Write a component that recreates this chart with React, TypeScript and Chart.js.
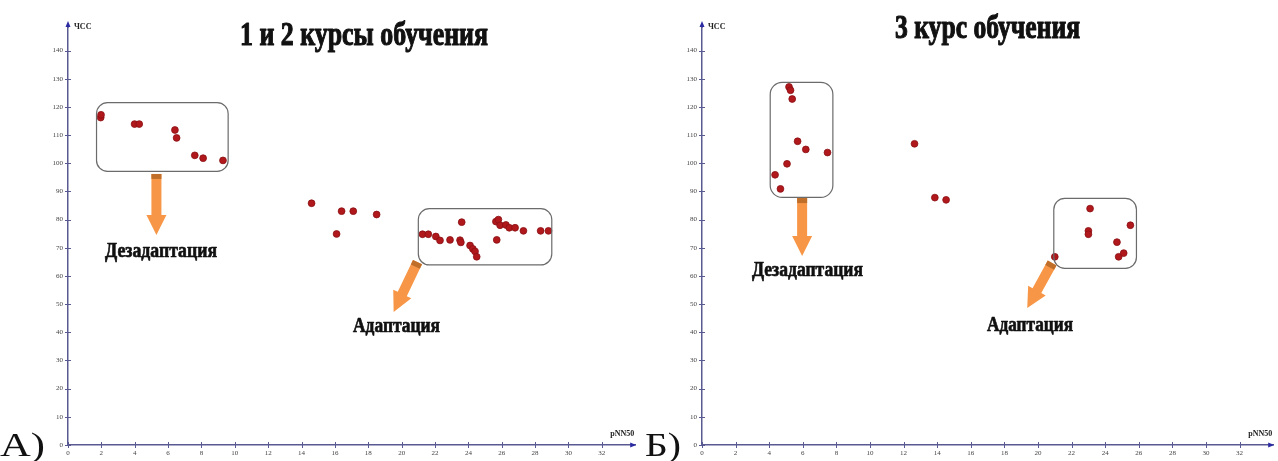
import React, { useEffect, useRef } from "react";
import { Chart, registerables } from "chart.js";

Chart.register(...registerables);

// ---------- DATA ----------
// А) 1 и 2 курсы обучения
const leftPNN50 = [1.96, 1.98, 3.99, 4.27, 6.41, 6.51, 7.6, 8.1, 9.29, 14.6, 16.1, 16.4, 17.1, 18.5,
  21.25, 21.6, 22.05, 22.3, 22.9, 23.5, 23.55, 23.6, 24.1, 24.27, 24.4, 24.5,
  25.65, 25.8, 25.9, 25.7, 26.25, 26.45, 26.8, 27.3, 28.33, 28.8];
const leftHR = [116.2, 117.2, 113.9, 113.9, 111.8, 109.0, 102.8, 101.8, 101.0, 85.8, 74.9, 83.0, 83.0, 81.8,
  74.8, 74.8, 74.0, 72.6, 72.8, 72.7, 71.9, 79.1, 70.8, 69.6, 68.7, 66.8,
  79.3, 80.0, 78.0, 72.8, 78.1, 77.1, 77.1, 76.0, 76.0, 76.0];
// Б) 3 курс обучения
const rightPNN50 = [4.35, 4.67, 5.06, 5.18, 5.27, 5.37, 5.69, 6.18, 7.47, 12.65, 13.86, 14.53,
  21.0, 23.0, 23.0, 23.1, 24.7, 24.8, 25.1, 25.5];
const rightHR = [95.9, 90.9, 99.8, 127.1, 125.9, 122.8, 107.8, 104.9, 103.8, 106.9, 87.8, 87.0,
  66.8, 76.0, 74.8, 83.9, 72.0, 66.8, 68.1, 78.0];

const xAxisName = "pNN50";
const yAxisName = "ЧСС";
const leftTitle = "1 и 2 курсы обучения";
const rightTitle = "3 курс обучения";
const labelDis = "Дезадаптация";
const labelAd = "Адаптация";

const X_MAX = 34;
const X_TICK_LAST = 32;
const Y_MAX = 148;

// ---------- STYLE ----------
const AXIS_COLOR = "#5a5a92";
const ARROW_COLOR = "#2b2ba3";
const POINT_FILL = "#b0181c";
const POINT_EDGE = "#8a1014";
const ORANGE = "#f79646";
const ORANGE_DARK = "#c06f2a";
const SERIF = "'Liberation Serif', 'DejaVu Serif', serif";

type Box = { x1: number; x2: number; y1: number; y2: number; r: number };
type Arrow = { x1: number; y1: number; x2: number; y2: number };
type Label = { text: string; cx: number; base: number; w: number; size: number; bold: boolean; align?: string };

type Panel = {
  xs: number[];
  ys: number[];
  boxes: Box[];
  arrows: Arrow[];
  labels: Label[];
  yAxisWidth: number;
  padRight: number;
};

function drawText(ctx: CanvasRenderingContext2D, l: Label) {
  ctx.save();
  ctx.font = `${l.bold ? "bold " : ""}${l.size}px ${SERIF}`;
  ctx.fillStyle = "#111";
  ctx.strokeStyle = "#111";
  ctx.textBaseline = "alphabetic";
  const m = ctx.measureText(l.text).width;
  const sx = l.w / m;
  ctx.translate(l.cx, l.base);
  ctx.scale(sx, 1);
  ctx.textAlign = (l.align as CanvasTextAlign) || "center";
  ctx.fillText(l.text, 0, 0);
  if (l.bold) {
    ctx.lineWidth = l.size > 25 ? 1.1 : 0.7;
    ctx.lineJoin = "round";
    ctx.strokeText(l.text, 0, 0);
  }
  ctx.restore();
}

function drawBlockArrow(ctx: CanvasRenderingContext2D, x1: number, y1: number, x2: number, y2: number) {
  const dx = x2 - x1, dy = y2 - y1;
  const len = Math.hypot(dx, dy);
  const ux = dx / len, uy = dy / len;
  const px = -uy, py = ux;
  const sw = 5, hw = 10, hl = 20;
  const bx = x2 - ux * hl, by = y2 - uy * hl;
  ctx.save();
  ctx.fillStyle = ORANGE;
  ctx.beginPath();
  ctx.moveTo(x1 + px * sw, y1 + py * sw);
  ctx.lineTo(bx + px * sw, by + py * sw);
  ctx.lineTo(bx + px * hw, by + py * hw);
  ctx.lineTo(x2, y2);
  ctx.lineTo(bx - px * hw, by - py * hw);
  ctx.lineTo(bx - px * sw, by - py * sw);
  ctx.lineTo(x1 - px * sw, y1 - py * sw);
  ctx.closePath();
  ctx.fill();
  // darker band at the top of the shaft
  const ex = x1 + ux * 5, ey = y1 + uy * 5;
  ctx.fillStyle = ORANGE_DARK;
  ctx.beginPath();
  ctx.moveTo(x1 + px * sw, y1 + py * sw);
  ctx.lineTo(ex + px * sw, ey + py * sw);
  ctx.lineTo(ex - px * sw, ey - py * sw);
  ctx.lineTo(x1 - px * sw, y1 - py * sw);
  ctx.closePath();
  ctx.fill();
  ctx.restore();
}

const overlayPlugin = {
  id: "overlay",
  afterDraw(chart: any, _args: any, opts: any) {
    const ctx: CanvasRenderingContext2D = chart.ctx;
    const xs = chart.scales.x;
    const ys = chart.scales.y;
    const ca = chart.chartArea;
    const p: Panel = opts.panel;

    ctx.save();
    // crossing tick marks
    ctx.strokeStyle = AXIS_COLOR;
    ctx.lineWidth = 1;
    xs.ticks.forEach((t: any) => {
      const x = Math.round(xs.getPixelForValue(t.value)) + 0.5;
      ctx.beginPath();
      ctx.moveTo(x, ca.bottom - 3);
      ctx.lineTo(x, ca.bottom + 3);
      ctx.stroke();
    });
    ys.ticks.forEach((t: any) => {
      const y = Math.round(ys.getPixelForValue(t.value)) + 0.5;
      ctx.beginPath();
      ctx.moveTo(ca.left - 3, y);
      ctx.lineTo(ca.left + 3, y);
      ctx.stroke();
    });
    // axis extensions + arrowheads
    ctx.lineWidth = 1.5;
    ctx.beginPath();
    ctx.moveTo(ca.left, ca.top);
    ctx.lineTo(ca.left, ca.top - 3);
    ctx.stroke();
    ctx.fillStyle = ARROW_COLOR;
    ctx.beginPath();
    ctx.moveTo(ca.left, ca.top - 7);
    ctx.lineTo(ca.left - 2.5, ca.top - 1);
    ctx.lineTo(ca.left + 2.5, ca.top - 1);
    ctx.closePath();
    ctx.fill();
    ctx.beginPath();
    ctx.moveTo(ca.right + 1, ca.bottom);
    ctx.lineTo(ca.right - 5, ca.bottom - 2.5);
    ctx.lineTo(ca.right - 5, ca.bottom + 2.5);
    ctx.closePath();
    ctx.fill();

    // axis names
    ctx.fillStyle = "#222";
    ctx.font = `bold 8px ${SERIF}`;
    ctx.textBaseline = "middle";
    ctx.textAlign = "left";
    ctx.fillText(yAxisName, ca.left + 6, ca.top - 1);
    ctx.textAlign = "right";
    ctx.fillText(xAxisName, ca.right - 1, ca.bottom - 11);

    // rounded boxes
    ctx.strokeStyle = "#6b6b6b";
    ctx.lineWidth = 1.2;
    p.boxes.forEach((b) => {
      const X1 = xs.getPixelForValue(b.x1), X2 = xs.getPixelForValue(b.x2);
      const Y1 = ys.getPixelForValue(b.y1), Y2 = ys.getPixelForValue(b.y2);
      ctx.beginPath();
      (ctx as any).roundRect(X1, Y1, X2 - X1, Y2 - Y1, b.r);
      ctx.stroke();
    });
    // block arrows
    p.arrows.forEach((a) => {
      drawBlockArrow(
        ctx,
        xs.getPixelForValue(a.x1), ys.getPixelForValue(a.y1),
        xs.getPixelForValue(a.x2), ys.getPixelForValue(a.y2)
      );
    });
    // texts
    p.labels.forEach((l) => drawText(ctx, l));
    ctx.restore();
  },
};

function buildConfig(p: Panel): any {
  return {
    type: "scatter",
    data: {
      datasets: [
        {
          data: p.xs.map((x, i) => ({ x, y: p.ys[i] })),
          backgroundColor: POINT_FILL,
          borderColor: POINT_EDGE,
          borderWidth: 0.8,
          pointRadius: 3.4,
        },
      ],
    },
    options: {
      responsive: false,
      animation: false,
      events: [],
      layout: { padding: { top: 28, left: 0, right: p.padRight, bottom: 0 } },
      plugins: {
        legend: { display: false },
        tooltip: { enabled: false },
        overlay: { panel: p },
      },
      scales: {
        x: {
          type: "linear",
          min: 0,
          max: X_MAX,
          grid: { display: false, drawTicks: true, tickLength: 3 },
          border: { display: true, color: AXIS_COLOR, width: 1.5 },
          ticks: {
            stepSize: 2,
            padding: 1,
            maxRotation: 0,
            autoSkip: false,
            color: "#444",
            font: { family: SERIF, size: 7 },
          },
          afterBuildTicks: (s: any) => {
            s.ticks = s.ticks.filter((t: any) => t.value <= X_TICK_LAST);
          },
          afterFit: (s: any) => {
            s.height = 16;
          },
        },
        y: {
          type: "linear",
          min: 0,
          max: Y_MAX,
          grid: { display: false, drawTicks: true, tickLength: 3 },
          border: { display: true, color: AXIS_COLOR, width: 1.5 },
          ticks: {
            stepSize: 10,
            includeBounds: false,
            padding: 2,
            autoSkip: false,
            color: "#444",
            font: { family: SERIF, size: 7 },
          },
          afterBuildTicks: (s: any) => {
            s.ticks = s.ticks.filter((t: any) => t.value <= 140);
          },
          afterFit: (s: any) => {
            s.width = p.yAxisWidth;
          },
        },
      },
    },
    plugins: [overlayPlugin],
  };
}

const leftPanel: Panel = {
  xs: leftPNN50,
  ys: leftHR,
  boxes: [
    { x1: 1.71, x2: 9.6, y1: 121.5, y2: 97.1, r: 11 },
    { x1: 21.0, x2: 29.0, y1: 83.9, y2: 63.9, r: 11 },
  ],
  arrows: [
    { x1: 5.3, y1: 96.2, x2: 5.3, y2: 74.5 },
    { x1: 20.95, y1: 64.9, x2: 19.52, y2: 47.2 },
  ],
  labels: [
    { text: leftTitle, cx: 364, base: 45, w: 248, size: 33, bold: true },
    { text: labelDis, cx: 161, base: 257, w: 112, size: 21, bold: true },
    { text: labelAd, cx: 396.5, base: 332, w: 87, size: 21, bold: true },
    { text: "А)", cx: 0, base: 456, w: 45, size: 33, bold: false, align: "left" },
  ],
  yAxisWidth: 68,
  padRight: 1,
};

const rightPanel: Panel = {
  xs: rightPNN50,
  ys: rightHR,
  boxes: [
    { x1: 4.06, x2: 7.79, y1: 128.7, y2: 87.9, r: 12 },
    { x1: 20.94, x2: 25.86, y1: 87.5, y2: 62.7, r: 11 },
  ],
  arrows: [
    { x1: 5.96, y1: 87.65, x2: 5.96, y2: 67.1 },
    { x1: 20.84, y1: 64.6, x2: 19.36, y2: 48.6 },
  ],
  labels: [
    { text: rightTitle, cx: 347.5, base: 38, w: 185, size: 33, bold: true },
    { text: labelDis, cx: 167.5, base: 276, w: 111, size: 21, bold: true },
    { text: labelAd, cx: 390, base: 331, w: 86, size: 21, bold: true },
    { text: "Б)", cx: 5, base: 456, w: 36, size: 33, bold: false, align: "left" },
  ],
  yAxisWidth: 62,
  padRight: 0,
};

function ChartCanvas({ panel, left, width }: { panel: Panel; left: number; width: number }) {
  const ref = useRef<HTMLCanvasElement | null>(null);
  useEffect(() => {
    if (!ref.current) return;
    const chart = new Chart(ref.current, buildConfig(panel));
    return () => chart.destroy();
  }, [panel]);
  return (
    <canvas
      ref={ref}
      width={width}
      height={461}
      style={{ position: "absolute", left, top: 0, width, height: 461 }}
    />
  );
}

export default function App() {
  return (
    <div
      style={{
        position: "fixed",
        left: 0,
        top: 0,
        width: 1278,
        height: 461,
        background: "#ffffff",
        overflow: "hidden",
      }}
    >
      <ChartCanvas panel={leftPanel} left={0} width={640} />
      <ChartCanvas panel={rightPanel} left={640} width={638} />
    </div>
  );
}
